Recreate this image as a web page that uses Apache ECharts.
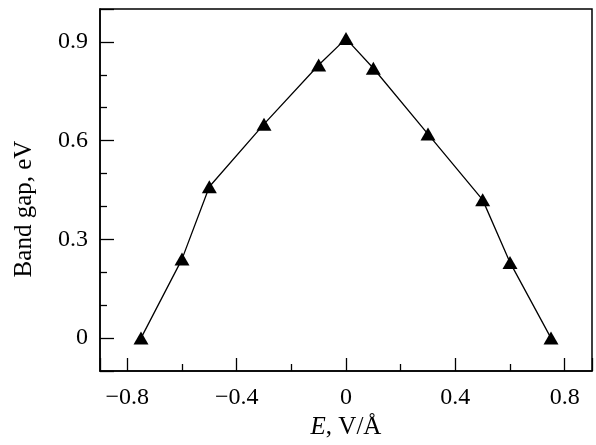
<!DOCTYPE html>
<html>
<head>
<meta charset="utf-8">
<script src="https://cdn.jsdelivr.net/npm/echarts@6/dist/echarts.min.js"></script>
<style>
  html, body { margin: 0; padding: 0; background: #fff; }
  #chart-container { width: 596px; height: 445px; }
</style>
</head>
<body>
<div id="chart-container"></div>
<script>
// field strength, V/Å
var fieldValues = [-0.75, -0.6, -0.5, -0.3, -0.1, 0, 0.1, 0.3, 0.5, 0.6, 0.75];
// band gap, eV
var gapValues = [0, 0.24, 0.46, 0.65, 0.83, 0.91, 0.82, 0.62, 0.42, 0.23, 0];

var xTickStep = 0.4;
var yTickStep = 0.3;

var dom = document.getElementById('chart-container');
var myChart = echarts.init(dom, null, { renderer: 'canvas' });

var serif = 'Liberation Serif';

function fmtTick(v) {
  if (v === 0) return '0';
  return String(v).replace('-', '\u2212');
}

var points = fieldValues.map(function (x, i) { return [x, gapValues[i]]; });

var option = {
  backgroundColor: '#fff',
  animation: false,
  grid: {
    left: 100, right: 4, top: 9, bottom: 73,
    show: true, borderColor: '#000', borderWidth: 1.5, backgroundColor: 'transparent'
  },
  xAxis: {
    type: 'value',
    min: -0.9, max: 0.9,
    minInterval: xTickStep, maxInterval: xTickStep,
    name: '{i|E}, V/Å',
    nameLocation: 'middle',
    nameGap: 44,
    nameTextStyle: {
      fontFamily: serif, fontSize: 25, color: '#000',
      rich: { i: { fontFamily: serif, fontSize: 25, fontStyle: 'italic', color: '#000' } }
    },
    axisLine: { show: true, onZero: false, lineStyle: { color: '#000', width: 1.5 } },
    axisTick: { show: true, inside: true, length: 13, lineStyle: { color: '#000', width: 1.3 } },
    minorTick: { show: true, splitNumber: 2, length: 7, lineStyle: { color: '#000', width: 1.3 } },
    splitLine: { show: false },
    axisLabel: {
      fontFamily: serif, fontSize: 24, color: '#000', margin: 15,
      showMinLabel: false, showMaxLabel: false,
      formatter: fmtTick
    }
  },
  yAxis: {
    type: 'value',
    min: -0.1, max: 1.0,
    minInterval: yTickStep, maxInterval: yTickStep,
    name: 'Band gap, eV',
    nameLocation: 'middle',
    nameGap: 63,
    // pushes the title a little below the middle of the axis, as in the source
    nameTextStyle: { fontFamily: serif, fontSize: 25, color: '#000', padding: [0, 38, 0, 0] },
    axisLine: { show: true, onZero: false, lineStyle: { color: '#000', width: 1.5 } },
    axisTick: { show: true, inside: true, length: 14, lineStyle: { color: '#000', width: 1.3 } },
    minorTick: { show: true, splitNumber: 3, length: 7, lineStyle: { color: '#000', width: 1.3 } },
    splitLine: { show: false },
    axisLabel: {
      fontFamily: serif, fontSize: 24, color: '#000', margin: 12,
      showMinLabel: false, showMaxLabel: false,
      formatter: fmtTick
    }
  },
  series: [
    {
      type: 'line',
      data: points,
      symbol: 'triangle',
      symbolSize: [15, 13],
      showAllSymbol: true,
      itemStyle: { color: '#000' },
      lineStyle: { color: '#000', width: 1.3 }
    }
  ]
};

myChart.setOption(option);
window.addEventListener('resize', myChart.resize);
</script>
</body>
</html>
